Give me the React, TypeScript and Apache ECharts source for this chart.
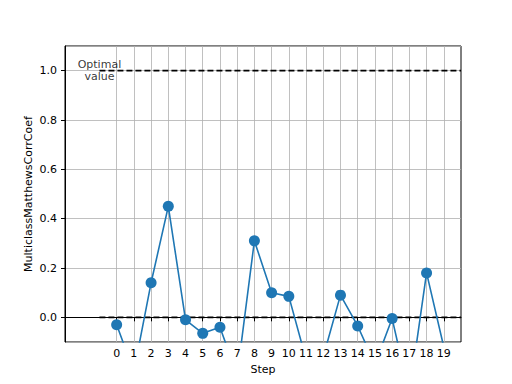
import React, { useEffect, useRef } from "react";
import * as echarts from "echarts";

const steps = [0, 1, 2, 3, 4, 5, 6, 7, 8, 9, 10, 11, 12, 13, 14, 15, 16, 17, 18, 19];
const mcc = [-0.03, -0.22, 0.14, 0.45, -0.01, -0.065, -0.04, -0.235, 0.31, 0.1, 0.085, -0.17, -0.16, 0.09, -0.035, -0.19, -0.005, -0.31, 0.18, -0.12];
const axisSteps = [-3, -2, -1, ...steps, 20];
const optimalValue = 1.0;
const baselineValue = 0.0;
const refLineStart = -1;
const refLineEnd = 20;
const yTickLabels = ["0.0", "0.2", "0.4", "0.6", "0.8", "1.0"];

export default function App() {
  const ref = useRef<HTMLDivElement>(null);
  useEffect(() => {
    if (!ref.current) return;
    const chart = echarts.init(ref.current, null, { renderer: "svg" });
    const font = "DejaVu Sans";
    const isStep = (v: string) => steps.includes(Number(v));
    chart.setOption({
      animation: false,
      textStyle: { fontFamily: font },
      grid: {
        left: 65,
        right: 51,
        top: 46,
        bottom: 42,
        show: true,
        borderColor: "#000",
        borderWidth: 1,
        backgroundColor: "transparent",
      },
      xAxis: {
        type: "category",
        boundaryGap: false,
        data: axisSteps.map(String),
        name: "Step",
        nameLocation: "middle",
        nameGap: 22,
        nameMoveOverlap: false,
        nameTextStyle: { fontSize: 11, color: "#000", fontFamily: font },
        axisLine: { show: true, lineStyle: { color: "#000", width: 1 } },
        axisTick: {
          show: true,
          inside: false,
          length: 4,
          interval: (_i: number, v: string) => isStep(v),
          lineStyle: { color: "#000" },
        },
        axisLabel: {
          show: true,
          margin: 6,
          fontSize: 11,
          color: "#000",
          fontFamily: font,
          interval: (_i: number, v: string) => isStep(v),
        },
        splitLine: {
          show: true,
          interval: (_i: number, v: string) => isStep(v),
          lineStyle: { color: "#b0b0b0", width: 0.8 },
        },
      },
      yAxis: {
        type: "value",
        min: -0.1,
        max: 1.1,
        splitNumber: 6,
        name: "MulticlassMatthewsCorrCoef",
        nameLocation: "middle",
        nameGap: 31,
        nameMoveOverlap: false,
        nameTextStyle: { fontSize: 11, color: "#000", fontFamily: font },
        axisLine: { show: true, lineStyle: { color: "#000", width: 1 } },
        axisTick: { show: true, inside: false, length: 4, lineStyle: { color: "#000" } },
        axisLabel: {
          margin: 8,
          fontSize: 11,
          color: "#000",
          fontFamily: font,
          showMinLabel: false,
          showMaxLabel: false,
          formatter: (v: number) => {
            const s = v.toFixed(1);
            return yTickLabels.includes(s) && Math.abs(v * 10 - Math.round(v * 10)) < 1e-6 && Math.round(v * 10) % 2 === 0 ? s : "";
          },
        },
        splitLine: { show: true, lineStyle: { color: "#b0b0b0", width: 0.8 } },
      },
      series: [
        {
          type: "line",
          data: [
            [String(refLineStart), optimalValue],
            [String(refLineEnd), optimalValue],
          ],
          symbol: "none",
          lineStyle: { color: "#000", width: 1.6, type: [6, 3] },
          z: 3,
          silent: true,
        },
        {
          type: "line",
          data: [
            [String(refLineStart), baselineValue],
            [String(refLineEnd), baselineValue],
          ],
          symbol: "none",
          lineStyle: { color: "#000", width: 1.6, type: [6, 3] },
          z: 3,
          silent: true,
        },
        {
          type: "line",
          data: steps.map((s, i) => [String(s), mcc[i]]),
          symbol: "circle",
          symbolSize: 11,
          showAllSymbol: true,
          clip: true,
          itemStyle: { color: "#1f77b4" },
          lineStyle: { color: "#1f77b4", width: 1.6 },
          z: 4,
        },
        {
          type: "scatter",
          data: [[String(refLineStart), optimalValue]],
          symbolSize: 0,
          label: {
            show: true,
            position: "inside",
            formatter: "Optimal\nvalue",
            fontSize: 11,
            lineHeight: 12,
            color: "#000",
            fontFamily: font,
            align: "center",
            verticalAlign: "middle",
          },
          z: 2,
        },
      ],
    });
    return () => chart.dispose();
  }, []);
  return <div ref={ref} style={{ width: 512, height: 384, position: "absolute", left: 0, top: 0 }} />;
}
